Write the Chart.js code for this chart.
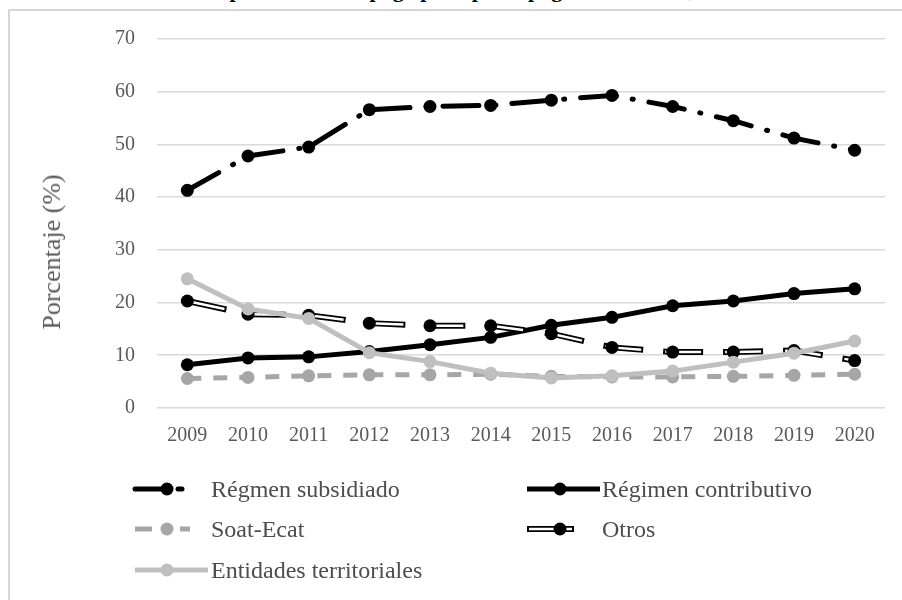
<!DOCTYPE html>
<html>
<head>
<meta charset="utf-8">
<script src="https://cdn.jsdelivr.net/npm/chart.js@4/dist/chart.umd.min.js"></script>
<style>
  body { margin: 0; background: #fff; width: 902px; height: 600px; overflow: hidden; position: relative; font-family: "Liberation Serif", serif; }
  #frame { position: absolute; left: 8px; top: 9px; width: 1000px; height: 1000px; border-left: 2px solid #d6d6d6; border-top: 2px solid #d6d6d6; }
  #title { position: absolute; left: 0; top: -21.5px; width: 902px; text-align: center; font-weight: bold; font-size: 22px; line-height: 22px; color: #000; white-space: nowrap; }
  #wrap { position: absolute; left: 0; top: 0; width: 902px; height: 460px; }
  #ytitle { position: absolute; left: 52px; top: 252px; transform: translate(-50%, -50%) rotate(-90deg); font-size: 26px; color: #595959; white-space: nowrap; }
  .sym { position: absolute; }
  .lab { position: absolute; font-size: 24px; line-height: 30px; height: 30px; color: #4d4d4d; white-space: nowrap; }
</style>
</head>
<body>
<div id="frame"></div>
<div id="title">Distribución porcentual del pago por tipo de pagador en salud, 2009-2020</div>
<div id="wrap"><canvas id="myChart"></canvas></div>
<div id="ytitle">Porcentaje (%)</div>
<div id="legend"></div>
<script>
var years = ['2009', '2010', '2011', '2012', '2013', '2014', '2015', '2016', '2017', '2018', '2019', '2020'];
var subsidiado = [41.3, 47.8, 49.5, 56.6, 57.2, 57.4, 58.4, 59.3, 57.2, 54.5, 51.2, 48.9];
var contributivo = [8.2, 9.5, 9.7, 10.7, 12.0, 13.4, 15.7, 17.2, 19.4, 20.3, 21.7, 22.6];
var soatEcat = [5.6, 5.8, 6.1, 6.3, 6.3, 6.4, 6.0, 5.9, 5.9, 6.0, 6.2, 6.4];
var otros = [20.3, 17.8, 17.6, 16.1, 15.6, 15.6, 14.1, 11.5, 10.6, 10.6, 10.9, 9.0];
var entidades = [24.5, 18.8, 17.0, 10.5, 8.8, 6.6, 5.7, 6.1, 7.0, 8.7, 10.4, 12.7];
var yTicks = [0, 10, 20, 30, 40, 50, 60, 70];

var seriesNames = ['Régmen subsidiado', 'Régimen contributivo', 'Soat-Ecat', 'Otros', 'Entidades territoriales'];

// line looks shared by the chart and the legend symbols
var looks = [
    { color: '#000000', width: 5, dash: [36, 16, 1, 16], cap: 'round' },
    { color: '#000000', width: 5, dash: [], cap: 'butt' },
    { color: '#a6a6a6', width: 5, dash: [14, 12], cap: 'butt' },
    { color: '#000000', width: 6, dash: [40, 20], cap: 'butt', inner: '#ffffff' },
    { color: '#bfbfbf', width: 5, dash: [], cap: 'butt' }
];

var ctx = document.getElementById('myChart').getContext('2d');

function lineSet(name, data, look, order) {
    return {
        label: name,
        data: data,
        borderColor: look.color,
        backgroundColor: look.color,
        borderWidth: look.width,
        borderDash: look.dash,
        borderCapStyle: look.cap,
        pointRadius: 6.5,
        pointBorderWidth: 0,
        pointBackgroundColor: look.color,
        tension: 0,
        order: order
    };
}

var datasets = [
    lineSet(seriesNames[0], subsidiado, looks[0], 5),
    lineSet(seriesNames[1], contributivo, looks[1], 4),
    lineSet(seriesNames[2], soatEcat, looks[2], 3),
    // Otros: black dashed line, white inner line, then the markers on top
    {
        label: seriesNames[3], data: otros, borderColor: '#000', borderWidth: 6,
        borderDash: [40, 20], pointRadius: 0, tension: 0, order: 2.3
    },
    {
        label: seriesNames[3], data: otros, borderColor: '#fff', borderWidth: 2.5,
        borderDash: [36, 24], borderDashOffset: -2, pointRadius: 0, tension: 0, order: 2.2
    },
    {
        label: seriesNames[3], data: otros, showLine: false, pointRadius: 6.5,
        pointBorderWidth: 0, pointBackgroundColor: '#000', order: 2.1
    },
    lineSet(seriesNames[4], entidades, looks[4], 1)
];

var myChart = new Chart(ctx, {
    type: 'line',
    data: { labels: years, datasets: datasets },
    options: {
        responsive: true,
        maintainAspectRatio: false,
        animation: false,
        events: [],
        layout: { padding: { top: 39, right: 17, bottom: 0, left: 0 } },
        plugins: {
            legend: { display: false },
            tooltip: { enabled: false }
        },
        scales: {
            x: {
                offset: true,
                grid: { display: false, drawTicks: false },
                border: { display: false },
                ticks: {
                    padding: 16,
                    color: '#595959',
                    font: { family: 'Liberation Serif', size: 20 }
                },
                afterFit: function(scale) { scale.height = 52; }
            },
            y: {
                min: 0,
                max: 70,
                afterBuildTicks: function(scale) {
                    scale.ticks = yTicks.map(function(v) { return { value: v }; });
                },
                grid: { color: '#d9d9d9', lineWidth: 1.6, drawTicks: false },
                border: { display: false },
                ticks: {
                    padding: 22,
                    color: '#595959',
                    font: { family: 'Liberation Serif', size: 20 }
                },
                afterFit: function(scale) { scale.width = 157; }
            }
        }
    }
});

// legend: symbol canvases plus real text labels
// segs = stroke pieces [from, to] in the symbol canvas, m = marker x
var legendItems = [
    { s: 0, x: 130, y: 489, segs: [[5, 37], [48, 52]], m: 37, tx: 211 },
    { s: 1, x: 520, y: 489, segs: [[7, 80]], m: 40, tx: 602 },
    { s: 2, x: 130, y: 529, segs: [[5, 22], [50, 60]], m: 37, tx: 211 },
    { s: 3, x: 520, y: 529, segs: [[7, 54]], m: 40, tx: 602 },
    { s: 4, x: 130, y: 570, segs: [[5, 78]], m: 37, tx: 211 }
];

var legendBox = document.getElementById('legend');
legendItems.forEach(function(it) {
    var look = looks[it.s];
    var c = document.createElement('canvas');
    c.width = 90; c.height = 30;
    c.className = 'sym';
    c.style.left = it.x + 'px';
    c.style.top = (it.y - 15) + 'px';
    legendBox.appendChild(c);
    var g = c.getContext('2d');
    it.segs.forEach(function(sg) {
        g.lineWidth = look.width;
        g.strokeStyle = look.color;
        g.lineCap = look.cap;
        g.beginPath(); g.moveTo(sg[0], 15); g.lineTo(sg[1], 15); g.stroke();
        if (look.inner) {
            g.lineWidth = 2.5;
            g.strokeStyle = look.inner;
            g.beginPath(); g.moveTo(sg[0] + 2, 15); g.lineTo(sg[1] - 2, 15); g.stroke();
        }
    });
    g.fillStyle = look.color;
    g.beginPath(); g.arc(it.m, 15, 6.5, 0, Math.PI * 2); g.fill();

    var t = document.createElement('div');
    t.className = 'lab';
    t.style.left = it.tx + 'px';
    t.style.top = (it.y - 15) + 'px';
    t.textContent = seriesNames[it.s];
    legendBox.appendChild(t);
});
</script>
</body>
</html>
